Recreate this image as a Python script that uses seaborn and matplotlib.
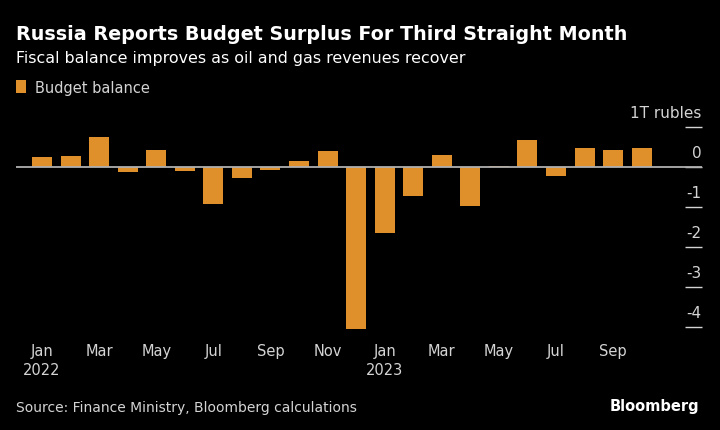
import pandas as pd
import seaborn as sns
import matplotlib.pyplot as plt
import matplotlib.transforms as mtransforms

# monthly budget balance, trillion rubles
months = ["Jan 2022", "Feb 2022", "Mar 2022", "Apr 2022", "May 2022", "Jun 2022",
          "Jul 2022", "Aug 2022", "Sep 2022", "Oct 2022", "Nov 2022", "Dec 2022",
          "Jan 2023", "Feb 2023", "Mar 2023", "Apr 2023", "May 2023", "Jun 2023",
          "Jul 2023", "Aug 2023", "Sep 2023", "Oct 2023"]
balance = [0.26, 0.28, 0.76, -0.13, 0.43, -0.10, -0.92, -0.26, -0.07, 0.16, 0.39, -4.04,
           -1.65, -0.72, 0.30, -0.96, 0.02, 0.68, -0.23, 0.47, 0.43, 0.47]
xtick_pos = [0, 2, 4, 6, 8, 10, 12, 14, 16, 18, 20]
xtick_labels = ["Jan\n2022", "Mar", "May", "Jul", "Sep", "Nov",
                "Jan\n2023", "Mar", "May", "Jul", "Sep"]
ytick_pos = [-4, -3, -2, -1, 0, 1]
ytick_labels = ["-4", "-3", "-2", "-1", "0", "1T rubles"]

df = pd.DataFrame({"Month": months, "Balance": balance})

bar_color = "#E0902B"
grey = "#d4d4d4"

sns.set_style("dark")
plt.rcParams["font.family"] = ["DejaVu Sans"]

fig = plt.figure(figsize=(7.2, 4.31), dpi=100, facecolor="black")
ax = fig.add_axes([0.0222, 0.2334, 0.9524, 0.4696])
ax.set_facecolor("black")

sns.barplot(data=df, x="Month", y="Balance", color=bar_color, width=0.7,
            saturation=1, label="Budget balance", ax=ax, zorder=2,
            edgecolor=bar_color, linewidth=0)

ax.axhline(0, color="#b0b0b0", lw=1.3, zorder=3)

ax.set_xlim(-0.91, 23.1)
ax.set_ylim(-4.05, 1.0)
ax.set_xlabel("")
ax.set_ylabel("")
for s in ax.spines.values():
    s.set_visible(False)
ax.grid(False)

ax.set_xticks(xtick_pos)
ax.set_xticklabels(xtick_labels, color=grey, fontsize=10.5, linespacing=1.35)
ax.tick_params(axis="x", length=6, width=1, color=grey, pad=7, direction="inout")

ax.yaxis.tick_right()
ax.set_yticks(ytick_pos)
ax.set_yticklabels(ytick_labels, color=grey, fontsize=11)
ax.tick_params(axis="y", length=12, width=1, color=grey, direction="in", pad=0)
offset = mtransforms.ScaledTranslation(0, 0.15, fig.dpi_scale_trans)
for lab in ax.get_yticklabels():
    lab.set_horizontalalignment("right")
    lab.set_verticalalignment("center")
    lab.set_transform(lab.get_transform() + offset)

fig.text(16 / 720, 1 - 35 / 431, "Russia Reports Budget Surplus For Third Straight Month",
         color="white", fontsize=13.8, fontweight="bold", va="center", ha="left")
fig.text(16 / 720, 1 - 58 / 431, "Fiscal balance improves as oil and gas revenues recover",
         color="white", fontsize=11.4, va="center", ha="left")

handles, labels = ax.get_legend_handles_labels()
leg = fig.legend(handles, labels, loc="center left",
                 bbox_to_anchor=(16 / 720, 1 - 88 / 431), frameon=False,
                 handlelength=0.7, handleheight=1.0, handletextpad=0.6,
                 borderaxespad=0, borderpad=0, fontsize=10.5)
for t in leg.get_texts():
    t.set_color(grey)
if ax.get_legend() is not None:
    ax.get_legend().remove()

fig.text(16 / 720, 1 - 408 / 431, "Source: Finance Ministry, Bloomberg calculations",
         color=grey, fontsize=10, va="center", ha="left")
fig.text(699 / 720, 1 - 407 / 431, "Bloomberg", color="white", fontsize=10.5,
         fontweight="bold", va="center", ha="right")

fig.savefig("out.png", dpi=100, facecolor="black")
